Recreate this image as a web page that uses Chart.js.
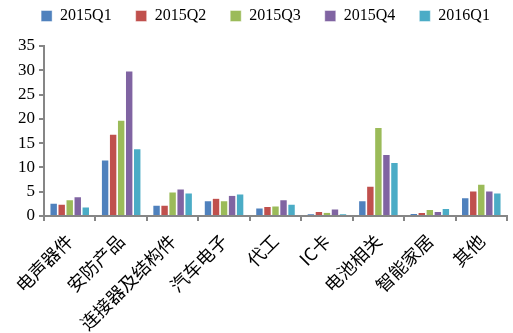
<!DOCTYPE html>
<html>
<head>
<meta charset="utf-8">
<script src="https://cdn.jsdelivr.net/npm/chart.js@4"></script>
<style>
  html, body { margin: 0; padding: 0; background: #fff; }
  #wrap { width: 513px; height: 333px; }
</style>
</head>
<body>
<div id="wrap"><canvas id="c" width="513" height="333"></canvas></div>
<script>
const categories = ['电声器件', '安防产品', '连接器及结构件', '汽车电子', '代工', 'IC卡', '电池相关', '智能家居', '其他'];
const q2015Q1 = [2.7, 11.6, 2.3, 3.2, 1.7, 0.55, 3.2, 0.6, 3.8];
const q2015Q2 = [2.5, 16.9, 2.3, 3.7, 2.0, 1.0, 6.2, 0.8, 5.2];
const q2015Q3 = [3.4, 19.8, 5.0, 3.2, 2.1, 0.8, 18.3, 1.4, 6.6];
const q2015Q4 = [4.0, 29.9, 5.6, 4.3, 3.4, 1.5, 12.7, 1.0, 5.2];
const q2016Q1 = [1.9, 13.9, 4.8, 4.6, 2.5, 0.55, 11.1, 1.6, 4.8];
const yTicks = [0, 5, 10, 15, 20, 25, 30, 35];

const serif = "'Liberation Serif', 'Noto Sans CJK SC', serif";
const cjk = "'Noto Sans CJK SC', 'Liberation Serif', sans-serif";
const axisGray = '#868686';

function series(label, data, color) {
  return {
    label, data,
    backgroundColor: color,
    borderColor: 'rgba(255,255,255,0.55)',
    borderWidth: 0.8,
    categoryPercentage: 0.78,
    barPercentage: 1.0
  };
}

// Place the legend row near the top edge, nudged right, independent of the plot area.
const legendShift = {
  id: 'legendShift',
  afterUpdate(chart) {
    const lg = chart.legend;
    if (!lg) return;
    const dy = 12, dx = 12;
    lg.top -= dy; lg.bottom -= dy;
    lg.left += dx; lg.right += dx;
    lg.adjustHitBoxes();
  }
};

new Chart(document.getElementById('c'), {
  type: 'bar',
  data: {
    labels: categories,
    datasets: [
      series('2015Q1', q2015Q1, '#4F81BD'),
      series('2015Q2', q2015Q2, '#C0504D'),
      series('2015Q3', q2015Q3, '#9BBB59'),
      series('2015Q4', q2015Q4, '#8064A2'),
      series('2016Q1', q2016Q1, '#4BACC6')
    ]
  },
  plugins: [legendShift],
  options: {
    responsive: false,
    animation: false,
    layout: { padding: { top: -4, right: 6, left: 0, bottom: 0 } },
    plugins: {
      tooltip: { enabled: false },
      legend: {
        position: 'top',
        labels: {
          boxWidth: 11, boxHeight: 11,
          padding: 24,
          color: '#000',
          font: { family: serif, size: 16 }
        }
      }
    },
    scales: {
      x: {
        offset: true,
        grid: { offset: true, drawOnChartArea: false, drawTicks: true, tickLength: 5, color: axisGray, lineWidth: 2 },
        border: { display: true, color: axisGray, width: 2 },
        ticks: {
          color: '#000',
          minRotation: 45, maxRotation: 45,
          padding: 9,
          font: { family: cjk, size: 18 }
        },
        afterFit(scale) { scale.height = 117; }
      },
      y: {
        min: 0, max: 35,
        afterBuildTicks(scale) { scale.ticks = yTicks.map(v => ({ value: v })); },
        grid: { drawOnChartArea: false, drawTicks: true, tickLength: 5, color: axisGray, lineWidth: 2 },
        border: { display: true, color: axisGray, width: 2 },
        ticks: {
          color: '#000',
          padding: 4,
          autoSkip: false,
          font: { family: serif, size: 17 }
        },
        afterFit(scale) { scale.width = 44; }
      }
    }
  }
});
</script>
</body>
</html>
